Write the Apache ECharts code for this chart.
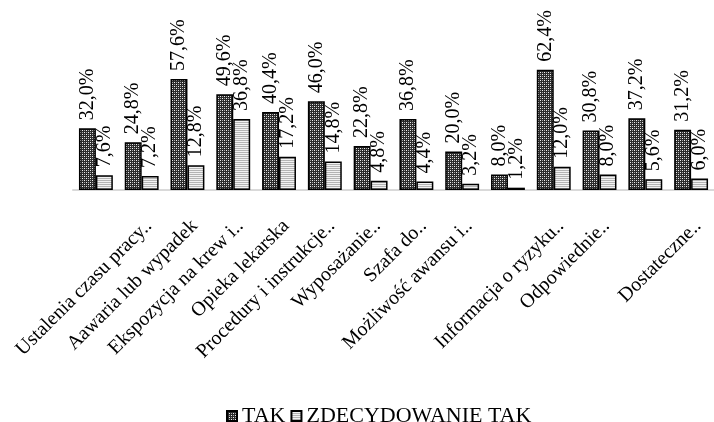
<!DOCTYPE html>
<html>
<head>
<meta charset="utf-8">
<script src="https://cdn.jsdelivr.net/npm/echarts@6/dist/echarts.min.js"></script>
<style>
  html, body { margin: 0; padding: 0; background: #fff; }
  #chart { width: 714px; height: 422px; }
</style>
</head>
<body>
<div id="chart"></div>
<script>
// Categories (some positions carry no printed label)
const categories = [
  '',
  'Ustalenia czasu pracy..',
  'Aawaria lub wypadek',
  'Ekspozycja na krew i..',
  'Opieka lekarska',
  'Procedury i instrukcje..',
  'Wyposażanie..',
  'Szafa do..',
  'Możliwość awansu i..',
  '',
  'Informacja o ryzyku..',
  'Odpowiednie..',
  '',
  'Dostateczne..'
];

// Percent of answers
const takValues = [32.0, 24.8, 57.6, 49.6, 40.4, 46.0, 22.8, 36.8, 20.0, 8.0, 62.4, 30.8, 37.2, 31.2];
const zdecydowanieTakValues = [7.6, 7.2, 12.8, 36.8, 17.2, 14.8, 4.8, 4.4, 3.2, 1.2, 12.0, 8.0, 5.6, 6.0];

const seriesNames = ['TAK', 'ZDECYDOWANIE TAK'];

const FONT = "'Liberation Serif', 'Times New Roman', serif";

// Dark dotted fill
function dottedPattern() {
  const c = document.createElement('canvas');
  c.width = 4; c.height = 4;
  const g = c.getContext('2d');
  g.fillStyle = '#2b2b2b';
  g.fillRect(0, 0, 4, 4);
  g.fillStyle = '#f0f0f0';
  g.fillRect(0, 0, 1, 1);
  g.fillRect(2, 2, 1, 1);
  g.fillStyle = '#a8a8a8';
  g.fillRect(2, 0, 1, 1);
  g.fillRect(0, 2, 1, 1);
  return c;
}

// Light horizontal-line fill
function stripePattern() {
  const c = document.createElement('canvas');
  c.width = 4; c.height = 2;
  const g = c.getContext('2d');
  g.fillStyle = '#f2f2f2';
  g.fillRect(0, 0, 4, 2);
  g.fillStyle = '#b4b4b4';
  g.fillRect(0, 0, 4, 1);
  return c;
}

const fills = [
  { image: dottedPattern(), repeat: 'repeat' },
  { image: stripePattern(), repeat: 'repeat' }
];

const fmt = v => v.toFixed(1).replace('.', ',') + '%';

function barSeries(name, values, fill) {
  return {
    name: name,
    type: 'bar',
    data: values,
    barGap: '0%',
    barCategoryGap: '26%',
    itemStyle: { color: fill, borderColor: '#000', borderWidth: 1.5 },
    label: {
      show: true,
      position: 'top',
      rotate: 90,
      align: 'left',
      verticalAlign: 'middle',
      distance: 8,
      fontFamily: FONT,
      fontSize: 20,
      color: '#000',
      formatter: p => fmt(p.value)
    }
  };
}

const chart = echarts.init(document.getElementById('chart'), null, { renderer: 'canvas' });
chart.setOption({
  backgroundColor: '#ffffff',
  animation: false,
  grid: { left: 73, top: 55, width: 647, height: 135, containLabel: false },
  legend: {
    data: seriesNames,
    left: 221,
    top: 400,
    itemWidth: 10,
    itemHeight: 10,
    itemGap: 5,
    icon: 'rect',
    textStyle: { fontFamily: FONT, fontSize: 22, color: '#000' }
  },
  xAxis: {
    type: 'category',
    data: categories,
    axisLine: { show: true, lineStyle: { color: '#d9d9d9', width: 2 } },
    axisTick: { show: false },
    axisLabel: {
      interval: 0,
      rotate: 45,
      align: 'right',
      verticalAlign: 'top',
      margin: 26,
      fontFamily: FONT,
      fontSize: 20,
      color: '#000'
    }
  },
  yAxis: {
    type: 'value',
    min: 0,
    max: 70,
    show: false,
    splitLine: { show: false }
  },
  series: [
    barSeries(seriesNames[0], takValues, fills[0]),
    barSeries(seriesNames[1], zdecydowanieTakValues, fills[1])
  ]
});
</script>
</body>
</html>
